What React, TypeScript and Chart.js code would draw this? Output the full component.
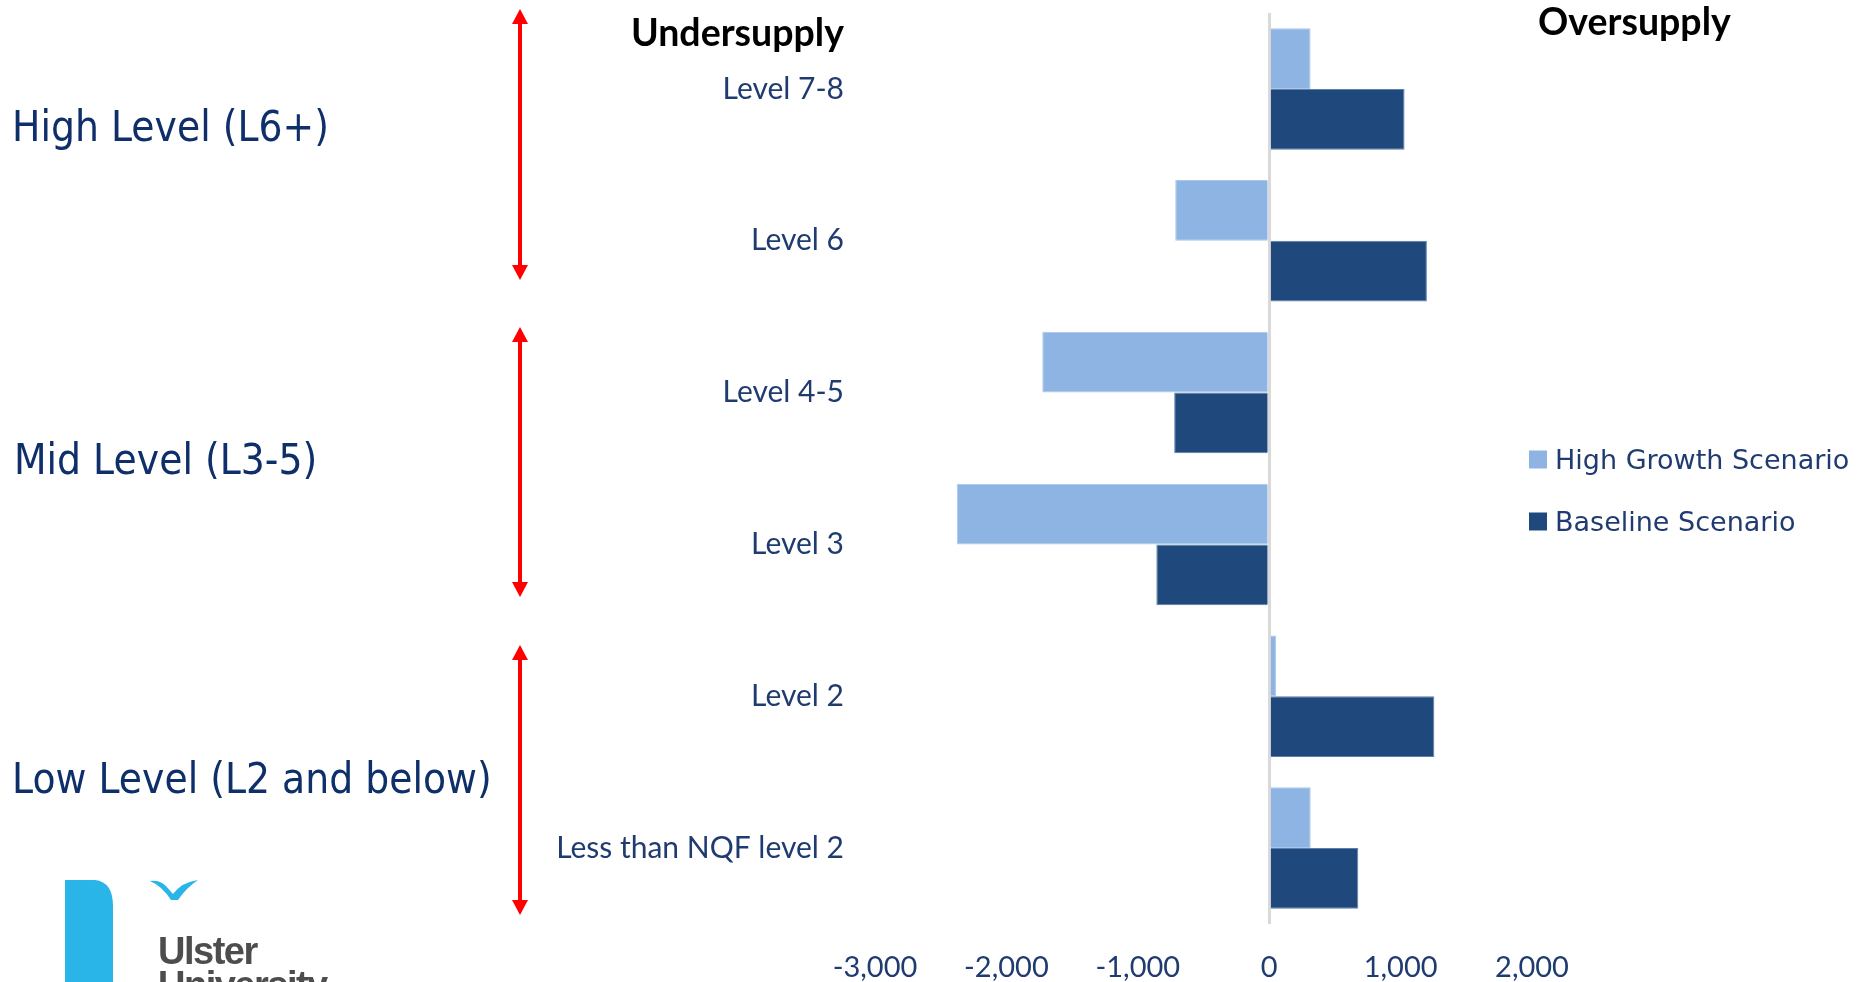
import React, { useEffect, useRef } from "react";
import { Chart, registerables } from "chart.js";

Chart.register(...registerables);

const categories = ["Level 7-8", "Level 6", "Level 4-5", "Level 3", "Level 2", "Less than NQF level 2"];
const highGrowth = [315, -715, -1727, -2378, 54, 316];
const baseline = [1030, 1200, -723, -859, 1257, 678];
const xTicks = [-3000, -2000, -1000, 0, 1000, 2000];
const seriesNames = ["High Growth Scenario", "Baseline Scenario"];
const groupLabels = ["High Level (L6+)", "Mid Level (L3-5)", "Low Level (L2 and below)"];

const LIGHT = "#8eb4e3";
const DARK = "#1f497d";
const NAVY = "#1f3b6f";

export default function App() {
  const ref = useRef<HTMLCanvasElement | null>(null);

  useEffect(() => {
    if (!ref.current) return;
    const chart = new Chart(ref.current, {
      type: "bar",
      data: {
        labels: categories,
        datasets: [
          {
            label: seriesNames[0],
            data: highGrowth,
            backgroundColor: LIGHT,
            borderColor: "#a9c6ec",
            borderWidth: 1,
            categoryPercentage: 0.8,
            barPercentage: 1,
          },
          {
            label: seriesNames[1],
            data: baseline,
            backgroundColor: DARK,
            borderColor: "#5f7fa8",
            borderWidth: 1,
            categoryPercentage: 0.8,
            barPercentage: 1,
          },
        ],
      },
      options: {
        indexAxis: "y",
        responsive: false,
        animation: false,
        layout: { padding: { top: 13, right: 332, left: 0, bottom: 0 } },
        plugins: { legend: { display: false }, tooltip: { enabled: false } },
        scales: {
          x: {
            type: "linear",
            min: xTicks[0],
            max: xTicks[xTicks.length - 1],
            afterBuildTicks: (s: any) => {
              s.ticks = xTicks.map((v) => ({ value: v }));
            },
            afterFit: (s: any) => {
              s.height = 58;
              s.paddingLeft = 0;
              s.paddingRight = 0;
            },
            grid: {
              color: (ctx: any) => (ctx.tick && ctx.tick.value === 0 ? "#d9d9d9" : "rgba(0,0,0,0)"),
              lineWidth: 3,
              drawTicks: false,
            },
            border: { display: false },
            ticks: {
              font: { family: "Lato", size: 29 },
              color: NAVY,
              padding: 26,
              callback: (v: any) => Number(v).toLocaleString("en-US"),
            },
          },
          y: {
            afterFit: (s: any) => {
              s.width = 875;
              s.paddingTop = 0;
              s.paddingBottom = 0;
            },
            grid: { display: false, drawTicks: false },
            border: { display: false },
            ticks: { font: { family: "Lato", size: 30 }, color: NAVY, padding: 31 },
          },
        },
      },
    });
    return () => chart.destroy();
  }, []);

  const leftLabel = (text: string, x: number, cy: number) => (
    <div
      style={{
        position: "absolute",
        left: x,
        top: cy,
        fontFamily: "'DejaVu Sans', Verdana, sans-serif",
        fontSize: 37.8,
        lineHeight: 1,
        color: "#0f2f6b",
        whiteSpace: "nowrap",
        transform: "translateY(-50%) scaleY(1.12)",
        transformOrigin: "left center",
      }}
    >
      {text}
    </div>
  );

  const arrow = (y1: number, y2: number, key: number) => (
    <g key={key}>
      <line x1={520} y1={y1 + 12} x2={520} y2={y2 - 12} stroke="#ff0000" strokeWidth={4} />
      <polygon points={`520,${y1} 512,${y1 + 15} 528,${y1 + 15}`} fill="#ff0000" />
      <polygon points={`520,${y2} 512,${y2 - 15} 528,${y2 - 15}`} fill="#ff0000" />
    </g>
  );

  return (
    <div style={{ position: "fixed", left: 0, top: 0, width: 1864, height: 982, background: "#ffffff", overflow: "hidden" }}>
      <canvas ref={ref} width={1864} height={982} style={{ position: "absolute", left: 0, top: 0 }} />
      {leftLabel(groupLabels[0], 12, 127)}
      {leftLabel(groupLabels[1], 14, 460)}
      {leftLabel(groupLabels[2], 12, 779)}
      <svg width={1864} height={982} style={{ position: "absolute", left: 0, top: 0, pointerEvents: "none" }}>
        {arrow(9, 280, 1)}
        {arrow(327, 597, 2)}
        {arrow(645, 915, 3)}
        <path d="M65,880 L95,880 Q113,882 113,906 L113,982 L65,982 Z" fill="#29b5e8" />
        <path d="M150,881 Q160,880 166,886 L173,894 Q182,882 198,880 Q186,888 178,900 L171,900 Q162,886 150,881 Z" fill="#29b5e8" />
      </svg>
      <div style={{ position: "absolute", left: 631, top: 32, transform: "translateY(-50%)", fontFamily: "Lato", fontWeight: 700, fontSize: 37.5, lineHeight: 1, color: "#000" }}>
        Undersupply
      </div>
      <div style={{ position: "absolute", left: 1538, top: 21, transform: "translateY(-50%)", fontFamily: "Lato", fontWeight: 700, fontSize: 37.5, lineHeight: 1, color: "#000" }}>
        Oversupply
      </div>
      {seriesNames.map((name, i) => (
        <div key={name} style={{ position: "absolute", left: 1529, top: 459 + i * 62, transform: "translateY(-50%)", display: "flex", alignItems: "center", whiteSpace: "nowrap" }}>
          <div style={{ width: 18, height: 18, background: i === 0 ? LIGHT : DARK, marginRight: 8 }} />
          <span style={{ fontFamily: "'DejaVu Sans', Verdana, sans-serif", fontSize: 27, lineHeight: 1, color: NAVY }}>{name}</span>
        </div>
      ))}
      <div style={{ position: "absolute", left: 158, top: 934, fontFamily: "'Liberation Sans', Arial, sans-serif", fontWeight: 700, fontSize: 38, lineHeight: "34px", letterSpacing: -1.5, color: "#4d4d4d" }}>
        Ulster
        <br />
        University
      </div>
    </div>
  );
}
